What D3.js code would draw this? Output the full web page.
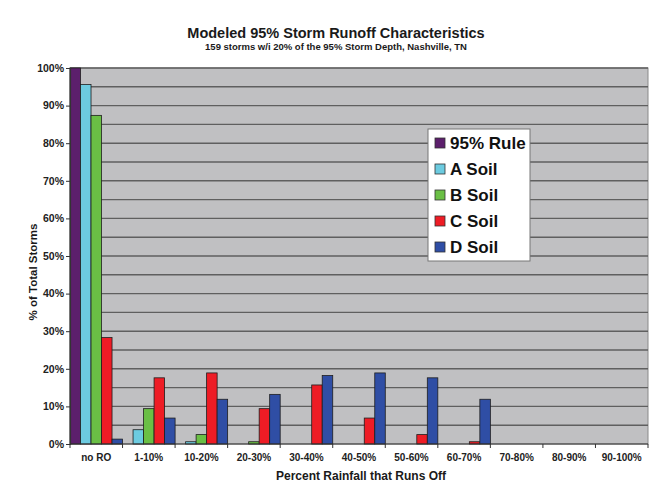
<!DOCTYPE html>
<html>
<head>
<meta charset="utf-8">
<script src="https://cdn.jsdelivr.net/npm/d3@7"></script>
<style>
  html, body { margin: 0; padding: 0; background: #fff; }
  svg { display: block; font-family: Arial, "Liberation Sans", sans-serif; }
</style>
</head>
<body>
<svg id="chart" width="657" height="485"></svg>
<script>
// Runoff classes (share of rainfall that runs off)
const categories = ["no RO", "1-10%", "10-20%", "20-30%", "30-40%", "40-50%",
                    "50-60%", "60-70%", "70-80%", "80-90%", "90-100%"];
const seriesNames = ["95% Rule", "A Soil", "B Soil", "C Soil", "D Soil"];

// % of the 159 modeled storms falling in each class
const rule95 = [100, 0, 0, 0, 0, 0, 0, 0, 0, 0, 0];
const soilA  = [95.6, 3.8, 0.6, 0, 0, 0, 0, 0, 0, 0, 0];
const soilB  = [87.4, 9.4, 2.5, 0.6, 0, 0, 0, 0, 0, 0, 0];
const soilC  = [28.3, 17.6, 18.9, 9.4, 15.7, 6.9, 2.5, 0.6, 0, 0, 0];
const soilD  = [1.3, 6.9, 11.9, 13.2, 18.2, 18.9, 17.6, 11.9, 0, 0, 0];

const yTicks = [0, 10, 20, 30, 40, 50, 60, 70, 80, 90, 100];
const gridValues = d3.range(5, 100, 5);

const seriesValues = [rule95, soilA, soilB, soilC, soilD];
const colors = ["#5c1f6c", "#6ccbe0", "#6abf45", "#ee1c25", "#2f4ea5"];

const svg = d3.select("#chart");
const plot = { left: 70, right: 648, top: 68, bottom: 444 };

const x0 = d3.scaleBand().domain(categories).range([plot.left, plot.right]).padding(0);
const x1 = d3.scaleBand().domain(seriesNames).range([0, x0.bandwidth()]).padding(0);
const y = d3.scaleLinear().domain([0, 100]).range([plot.bottom, plot.top]);

// plot background
svg.append("rect")
  .attr("x", plot.left).attr("y", plot.top)
  .attr("width", plot.right - plot.left).attr("height", plot.bottom - plot.top)
  .attr("fill", "#c0c0c2")
  .attr("stroke", "#8a8a8a").attr("stroke-width", 1);

// horizontal gridlines every 5%
svg.append("g").selectAll("line").data(gridValues.concat([100])).join("line")
  .attr("x1", plot.left).attr("x2", plot.right)
  .attr("y1", d => y(d)).attr("y2", d => y(d))
  .attr("stroke", "#5f5f5f").attr("stroke-width", 1.4);

// bars
const groups = svg.append("g").selectAll("g").data(seriesNames).join("g")
  .attr("fill", (d, i) => colors[i]);

groups.each(function (name, si) {
  const vals = seriesValues[si];
  d3.select(this).selectAll("rect")
    .data(categories.map((c, ci) => ({ c, v: vals[ci] })).filter(d => d.v > 0))
    .join("rect")
      .attr("x", d => x0(d.c) + x1(name))
      .attr("width", x1.bandwidth())
      .attr("y", d => y(d.v))
      .attr("height", d => y(0) - y(d.v))
      .attr("stroke", "#1e1e1e").attr("stroke-width", 0.8);
});

// y axis
const yAxis = svg.append("g")
  .attr("transform", `translate(${plot.left},0)`)
  .call(d3.axisLeft(y).tickValues(yTicks).tickFormat(d => d + "%").tickSize(4).tickPadding(2));
yAxis.select(".domain").attr("stroke", "#333").attr("stroke-width", 1.2);
yAxis.selectAll(".tick line").attr("stroke", "#333");
yAxis.selectAll("text")
  .attr("font-size", 10.5).attr("font-weight", "bold").attr("fill", "#222")
  .attr("font-family", "Arial, 'Liberation Sans', sans-serif");

// x axis with ticks between categories
const xAxisG = svg.append("g").attr("transform", `translate(0,${plot.bottom})`);
xAxisG.append("line")
  .attr("x1", plot.left).attr("x2", plot.right)
  .attr("stroke", "#333").attr("stroke-width", 1.2);
const bounds = categories.map(c => x0(c)).concat([plot.right]);
xAxisG.selectAll(".sep").data(bounds).join("line")
  .attr("class", "sep")
  .attr("x1", d => d).attr("x2", d => d)
  .attr("y1", 0).attr("y2", 4)
  .attr("stroke", "#333");
xAxisG.selectAll("text").data(categories).join("text")
  .attr("x", d => x0(d) + x0.bandwidth() / 2)
  .attr("y", 17)
  .attr("text-anchor", "middle")
  .attr("font-size", 10).attr("font-weight", "bold").attr("fill", "#222")
  .text(d => d);

// titles
svg.append("text")
  .attr("x", 336).attr("y", 38)
  .attr("text-anchor", "middle")
  .attr("font-size", 14.5).attr("font-weight", "bold").attr("fill", "#1a1a1a")
  .text("Modeled 95% Storm Runoff Characteristics");
svg.append("text")
  .attr("x", 336).attr("y", 50)
  .attr("text-anchor", "middle")
  .attr("font-size", 9.5).attr("font-weight", "bold").attr("fill", "#1a1a1a")
  .text("159 storms w/i 20% of the 95% Storm Depth, Nashville, TN");

svg.append("text")
  .attr("x", 361).attr("y", 480)
  .attr("text-anchor", "middle")
  .attr("font-size", 12).attr("font-weight", "bold").attr("fill", "#1a1a1a")
  .text("Percent Rainfall that Runs Off");

svg.append("text")
  .attr("transform", "translate(37,272) rotate(-90)")
  .attr("text-anchor", "middle")
  .attr("font-size", 11.5).attr("font-weight", "bold").attr("fill", "#1a1a1a")
  .text("% of Total Storms");

// legend
const legend = svg.append("g").attr("transform", "translate(428,129)");
legend.append("rect")
  .attr("width", 102).attr("height", 132)
  .attr("fill", "#fff").attr("stroke", "#777").attr("stroke-width", 1);
const items = legend.selectAll("g").data(seriesNames).join("g")
  .attr("transform", (d, i) => `translate(0,${14 + i * 26})`);
items.append("rect")
  .attr("x", 7).attr("y", -5).attr("width", 10).attr("height", 10)
  .attr("fill", (d, i) => colors[i]).attr("stroke", "#333").attr("stroke-width", 0.8);
items.append("text")
  .attr("x", 22).attr("y", 6)
  .attr("font-size", 17).attr("font-weight", "bold").attr("fill", "#111")
  .text(d => d);
</script>
</body>
</html>
